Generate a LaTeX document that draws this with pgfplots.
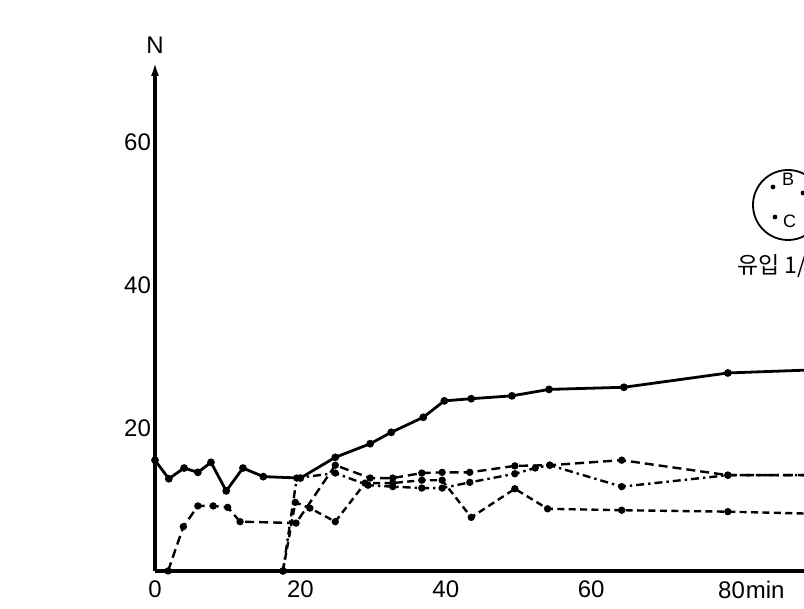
\documentclass[border=0pt]{standalone}
\usepackage{pgfplots}
\pgfplotsset{compat=1.18}
\usepackage{fontspec}
\setmainfont{Liberation Sans}
\newfontfamily\kr{Noto Sans CJK KR}
\usetikzlibrary{arrows.meta}

\begin{document}
\begin{tikzpicture}
% picture frame (the scan is cut off on the right)
\useasboundingbox (-77.5pt,-19pt) rectangle (324.5pt,285.5pt);
\clip (-77.5pt,-19pt) rectangle (324.5pt,285.5pt);
\begin{axis}[
    scale only axis,
    width=324.6pt, height=254.5pt,
    xmin=0, xmax=89.3, ymin=0, ymax=71.2,
    axis lines=left,
    x axis line style={-, line width=2pt},
    y axis line style={-{Latex[length=7pt,width=4pt]}, line width=2pt},
    major tick length=0pt,
    xtick={0,20,40,60,80},
    xticklabels={0,20,40,60,\hspace*{-5pt}80\rlap{\kern0.5pt min}},
    ytick={20,40,60},
    /pgf/number format/assume math mode=true,
    tick label style={font=\fontsize{12}{14}\selectfont},
    xticklabel style={yshift=-1.5pt},
    yticklabel style={xshift=1.5pt},
    every axis plot/.append style={mark=*, mark size=1.2pt, black},
]
\addplot[line width=1.4pt, solid] coordinates {
    (0,15.5) (1.9,12.9) (4,14.4) (5.9,13.8) (7.7,15.2) (9.8,11.2)
    (12.1,14.4) (14.9,13.2) (20,13.0) (24.8,15.9) (29.6,17.8) (32.5,19.4)
    (36.9,21.5) (39.8,23.8) (43.5,24.1) (49.1,24.5) (54.2,25.4) (64.5,25.7)
    (78.8,27.7) (95,28.3)
};
\addplot[line width=1.2pt, dash pattern=on 4.5pt off 2.5pt, mark options={solid}] coordinates {
    (1.8,0) (3.9,6.2) (5.9,9.1) (8,9.1) (10,8.9) (11.7,6.9) (19.4,6.7)
    (24.8,14.8) (29.6,13.0) (32.7,13.0) (36.7,13.7) (39.5,13.8) (43.3,13.8)
    (49.5,14.7) (54.3,14.8) (64.2,15.5) (78.8,13.4) (95,13.4)
};
\addplot[line width=1.2pt, dash pattern=on 4pt off 2pt on 1.2pt off 2pt, mark options={solid}] coordinates {
    (17.6,0) (19.5,13.0) (24.8,13.7) (29.3,12.0) (32.7,11.8) (36.7,11.6)
    (39.5,11.6) (43.3,12.4) (49.5,13.6) (52.3,14.4) (54.3,14.8) (64.2,11.8)
    (78.8,13.4) (95,13.4)
};
\addplot[line width=1.2pt, dash pattern=on 3.5pt off 2.2pt, mark options={solid}] coordinates {
    (17.6,0) (19.3,9.6) (21.3,8.8) (24.8,6.9) (28.9,12.3) (32.7,12.3)
    (36.7,12.7) (39.5,12.7) (43.5,7.5) (49.5,11.5) (54,8.7) (64.2,8.5)
    (78.8,8.3) (95,7.9)
};
\end{axis}
% axis name
\node[font=\fontsize{12}{14}\selectfont] at (0,263pt) {N};
% inset sketch
\draw[line width=0.9pt] (316.5pt,183pt) circle (17.5pt);
\fill (309pt,192pt) circle (1.2pt);
\node[font=\fontsize{9}{10}\selectfont, anchor=west] at (310pt,196pt) {B};
\fill (310pt,177pt) circle (1.2pt);
\node[font=\fontsize{9}{10}\selectfont, anchor=west] at (310.5pt,175pt) {C};
\fill (324pt,189pt) circle (1.2pt);
\node[font=\kr\fontsize{11.5}{13}\selectfont, anchor=west, inner sep=0pt] at (291pt,152.5pt) {유입 1/};
\end{tikzpicture}
\end{document}
